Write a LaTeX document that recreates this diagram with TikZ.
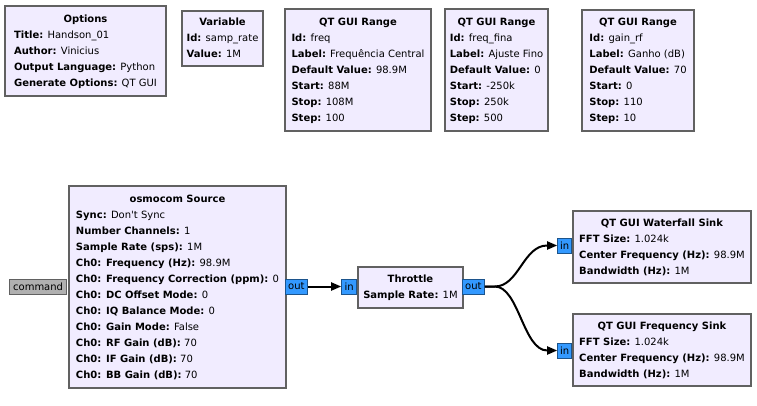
\documentclass[tikz,border=0pt]{standalone}
\usepackage{fontspec}
\setmainfont{DejaVu Sans}
\usetikzlibrary{arrows.meta}
\definecolor{grcfill}{HTML}{F1ECFF}
\definecolor{grcedge}{HTML}{616161}
\definecolor{grcport}{HTML}{3399FF}
\definecolor{grcmsg}{HTML}{B0B0B0}

% block body: centred title, then key/value rows
\newcommand\grcblock[2]{\begin{tabular}{@{}l@{}}\multicolumn{1}{@{}c@{}}{\textbf{#1}}\\#2\end{tabular}}
\newcommand\kv[2]{\textbf{#1:} #2}

\begin{document}
\begin{tikzpicture}[x=1pt, y=-1pt,
    every node/.style={font=\fontsize{10}{16}\selectfont},
    blk/.style={draw=grcedge, line width=2pt, fill=grcfill, rectangle, anchor=north west, inner sep=0pt},
    port/.style={draw=grcport!55!black, line width=0.8pt, fill=grcport, rectangle, inner sep=1pt, minimum height=15pt},
    msgport/.style={port, draw=grcedge, fill=grcmsg},
    wire/.style={line width=2pt, -{Triangle[length=10pt,width=8pt]}}]
  \useasboundingbox (0,0) rectangle (757,406);

  % variables and options
  \node[blk, minimum width=161pt, minimum height=90pt] (options) at (4,5) {\grcblock{Options}{%
      \kv{Title}{Handson\_01}\\ \kv{Author}{Vinicius}\\ \kv{Output Language}{Python}\\ \kv{Generate Options}{QT GUI}}};
  \node[blk, minimum width=81pt, minimum height=55pt] (samprate) at (181,10) {\grcblock{Variable}{%
      \kv{Id}{samp\_rate}\\ \kv{Value}{1M}}};
  \node[blk, minimum width=146pt, minimum height=122pt] (freq) at (284,8) {\grcblock{QT GUI Range}{%
      \kv{Id}{freq}\\ \kv{Label}{Frequência Central}\\ \kv{Default Value}{98.9M}\\ \kv{Start}{88M}\\ \kv{Stop}{108M}\\ \kv{Step}{100}}};
  \node[blk, minimum width=103pt, minimum height=122pt] (freqfina) at (444,8) {\grcblock{QT GUI Range}{%
      \kv{Id}{freq\_fina}\\ \kv{Label}{Ajuste Fino}\\ \kv{Default Value}{0}\\ \kv{Start}{-250k}\\ \kv{Stop}{250k}\\ \kv{Step}{500}}};
  \node[blk, minimum width=112pt, minimum height=121pt] (gainrf) at (581,9) {\grcblock{QT GUI Range}{%
      \kv{Id}{gain\_rf}\\ \kv{Label}{Ganho (dB)}\\ \kv{Default Value}{70}\\ \kv{Start}{0}\\ \kv{Stop}{110}\\ \kv{Step}{10}}};

  % flow graph
  \node[blk, minimum width=217pt, minimum height=202pt] (osmo) at (68,185) {\grcblock{osmocom Source}{%
      \kv{Sync}{Don\textquotesingle t Sync}\\ \kv{Number Channels}{1}\\ \kv{Sample Rate (sps)}{1M}\\
      \kv{Ch0: Frequency (Hz)}{98.9M}\\ \kv{Ch0: Frequency Correction (ppm)}{0}\\ \kv{Ch0: DC Offset Mode}{0}\\
      \kv{Ch0: IQ Balance Mode}{0}\\ \kv{Ch0: Gain Mode}{False}\\ \kv{Ch0: RF Gain (dB)}{70}\\
      \kv{Ch0: IF Gain (dB)}{70}\\ \kv{Ch0: BB Gain (dB)}{70}}};
  \node[blk, minimum width=105pt, minimum height=41pt] (throttle) at (357,266) {\grcblock{Throttle}{%
      \kv{Sample Rate}{1M}}};
  \node[blk, minimum width=178pt, minimum height=72pt] (waterfall) at (572,210) {\grcblock{QT GUI Waterfall Sink}{%
      \kv{FFT Size}{1.024k}\\ \kv{Center Frequency (Hz)}{98.9M}\\ \kv{Bandwidth (Hz)}{1M}}};
  \node[blk, minimum width=178pt, minimum height=72pt] (freqsink) at (572,313) {\grcblock{QT GUI Frequency Sink}{%
      \kv{FFT Size}{1.024k}\\ \kv{Center Frequency (Hz)}{98.9M}\\ \kv{Bandwidth (Hz)}{1M}}};

  % ports
  \node[msgport, anchor=east, minimum width=57pt] (cmd) at (67,286.5) {command};
  \node[port, anchor=west, minimum width=22pt] (osmoout) at (285,286.5) {out};
  \node[port, anchor=east, minimum width=15pt] (thrin) at (357,286.5) {in};
  \node[port, anchor=west, minimum width=22pt] (throut) at (462,286.5) {out};
  \node[port, anchor=east, minimum width=14pt] (wfin) at (572,245.5) {in};
  \node[port, anchor=east, minimum width=14pt] (fsin) at (572,350.5) {in};

  \draw[wire] (osmoout) -- (thrin);
  \draw[wire] (throut.east) -- ++(10,0) .. controls +(24,0) and +(-24,0) .. ([xshift=-10pt]wfin.west) -- (wfin.west);
  \draw[wire] (throut.east) -- ++(10,0) .. controls +(24,0) and +(-24,0) .. ([xshift=-10pt]fsin.west) -- (fsin.west);
\end{tikzpicture}
\end{document}
